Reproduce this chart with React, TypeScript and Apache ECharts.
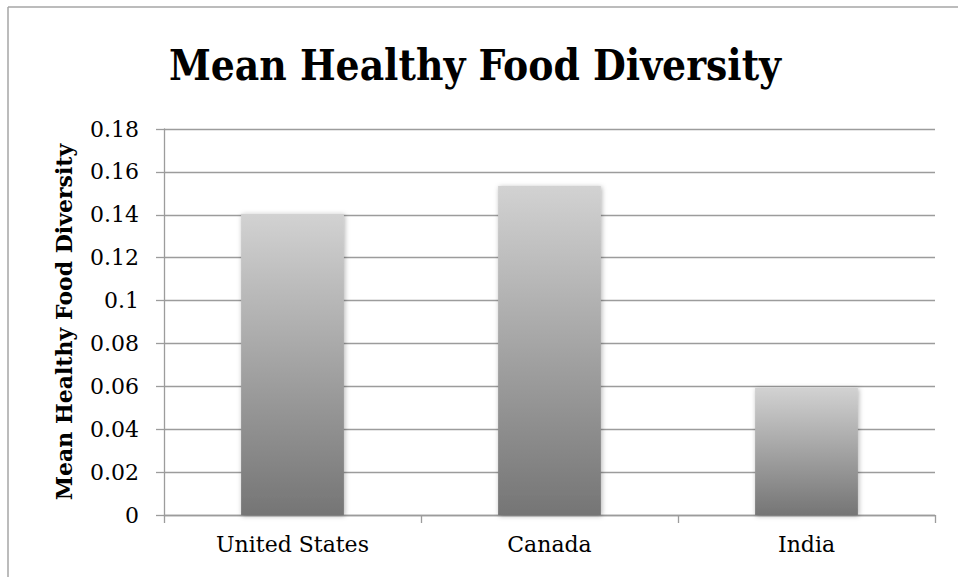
import React, { useEffect, useRef } from "react";
import * as echarts from "echarts";

const categories = ["United States", "Canada", "India"];
const meanDiversity = [0.1405, 0.1534, 0.0595];
const yTicks = { min: 0, max: 0.18, interval: 0.02 };
const titleText = "Mean Healthy Food Diversity";
const yAxisName = "Mean Healthy Food Diversity";

export default function App() {
  const ref = useRef<HTMLDivElement>(null);
  useEffect(() => {
    if (!ref.current) return;
    const chart = echarts.init(ref.current, null, { renderer: "svg" });
    const serif = "DejaVu Serif";
    const gridColor = "#9c9c9c";
    chart.setOption({
      animation: false,
      backgroundColor: "#ffffff",
      textStyle: { fontFamily: serif },
      grid: { left: 164, right: 23, top: 129, bottom: 62, containLabel: false },
      graphic: [
        {
          type: "line",
          shape: { x1: 8, y1: 7, x2: 958, y2: 7 },
          style: { stroke: "#a6a6a6", lineWidth: 1.5 },
        },
        {
          type: "line",
          shape: { x1: 8, y1: 7, x2: 8, y2: 577 },
          style: { stroke: "#a6a6a6", lineWidth: 1.5 },
        },
        {
          type: "text",
          x: 475,
          y: 86,
          style: {
            text: titleText,
            fontFamily: "'DejaVu Serif Condensed', 'DejaVu Serif', serif",
            fontWeight: "bold",
            fontSize: 42,
            fill: "#000",
            textAlign: "center",
            textVerticalAlign: "bottom",
          },
        },
      ],
      xAxis: {
        type: "category",
        data: categories,
        axisLine: { show: true, lineStyle: { color: gridColor, width: 1.3 } },
        axisTick: { show: true, length: 8, lineStyle: { color: gridColor, width: 1.3 } },
        axisLabel: { color: "#000", fontSize: 22, fontFamily: serif, margin: 18 },
        splitLine: { show: false },
      },
      yAxis: {
        type: "value",
        min: yTicks.min,
        max: yTicks.max,
        interval: yTicks.interval,
        name: yAxisName,
        nameLocation: "middle",
        nameRotate: 90,
        nameGap: 89,
        nameTextStyle: { color: "#000", fontSize: 22, fontWeight: "bold", fontFamily: serif },
        axisLine: { show: true, lineStyle: { color: gridColor, width: 1.3 } },
        axisTick: { show: true, length: 8, lineStyle: { color: gridColor, width: 1.3 } },
        axisLabel: {
          color: "#000",
          fontSize: 22,
          fontFamily: serif,
          margin: 25,
          formatter: (v: number) => String(parseFloat(v.toFixed(2))),
        },
        splitLine: { show: true, lineStyle: { color: gridColor, width: 1.3 } },
      },
      series: [
        {
          type: "bar",
          data: meanDiversity,
          barWidth: "40%",
          itemStyle: {
            color: new echarts.graphic.LinearGradient(0, 0, 0, 1, [
              { offset: 0, color: "#d2d2d2" },
              { offset: 1, color: "#757575" },
            ]),
            shadowBlur: 5,
            shadowColor: "rgba(0,0,0,0.3)",
            shadowOffsetX: 1,
            shadowOffsetY: 1,
          },
        },
      ],
    });
    return () => chart.dispose();
  }, []);
  return (
    <div
      ref={ref}
      style={{ position: "absolute", left: 0, top: 0, width: 958, height: 577 }}
    />
  );
}
